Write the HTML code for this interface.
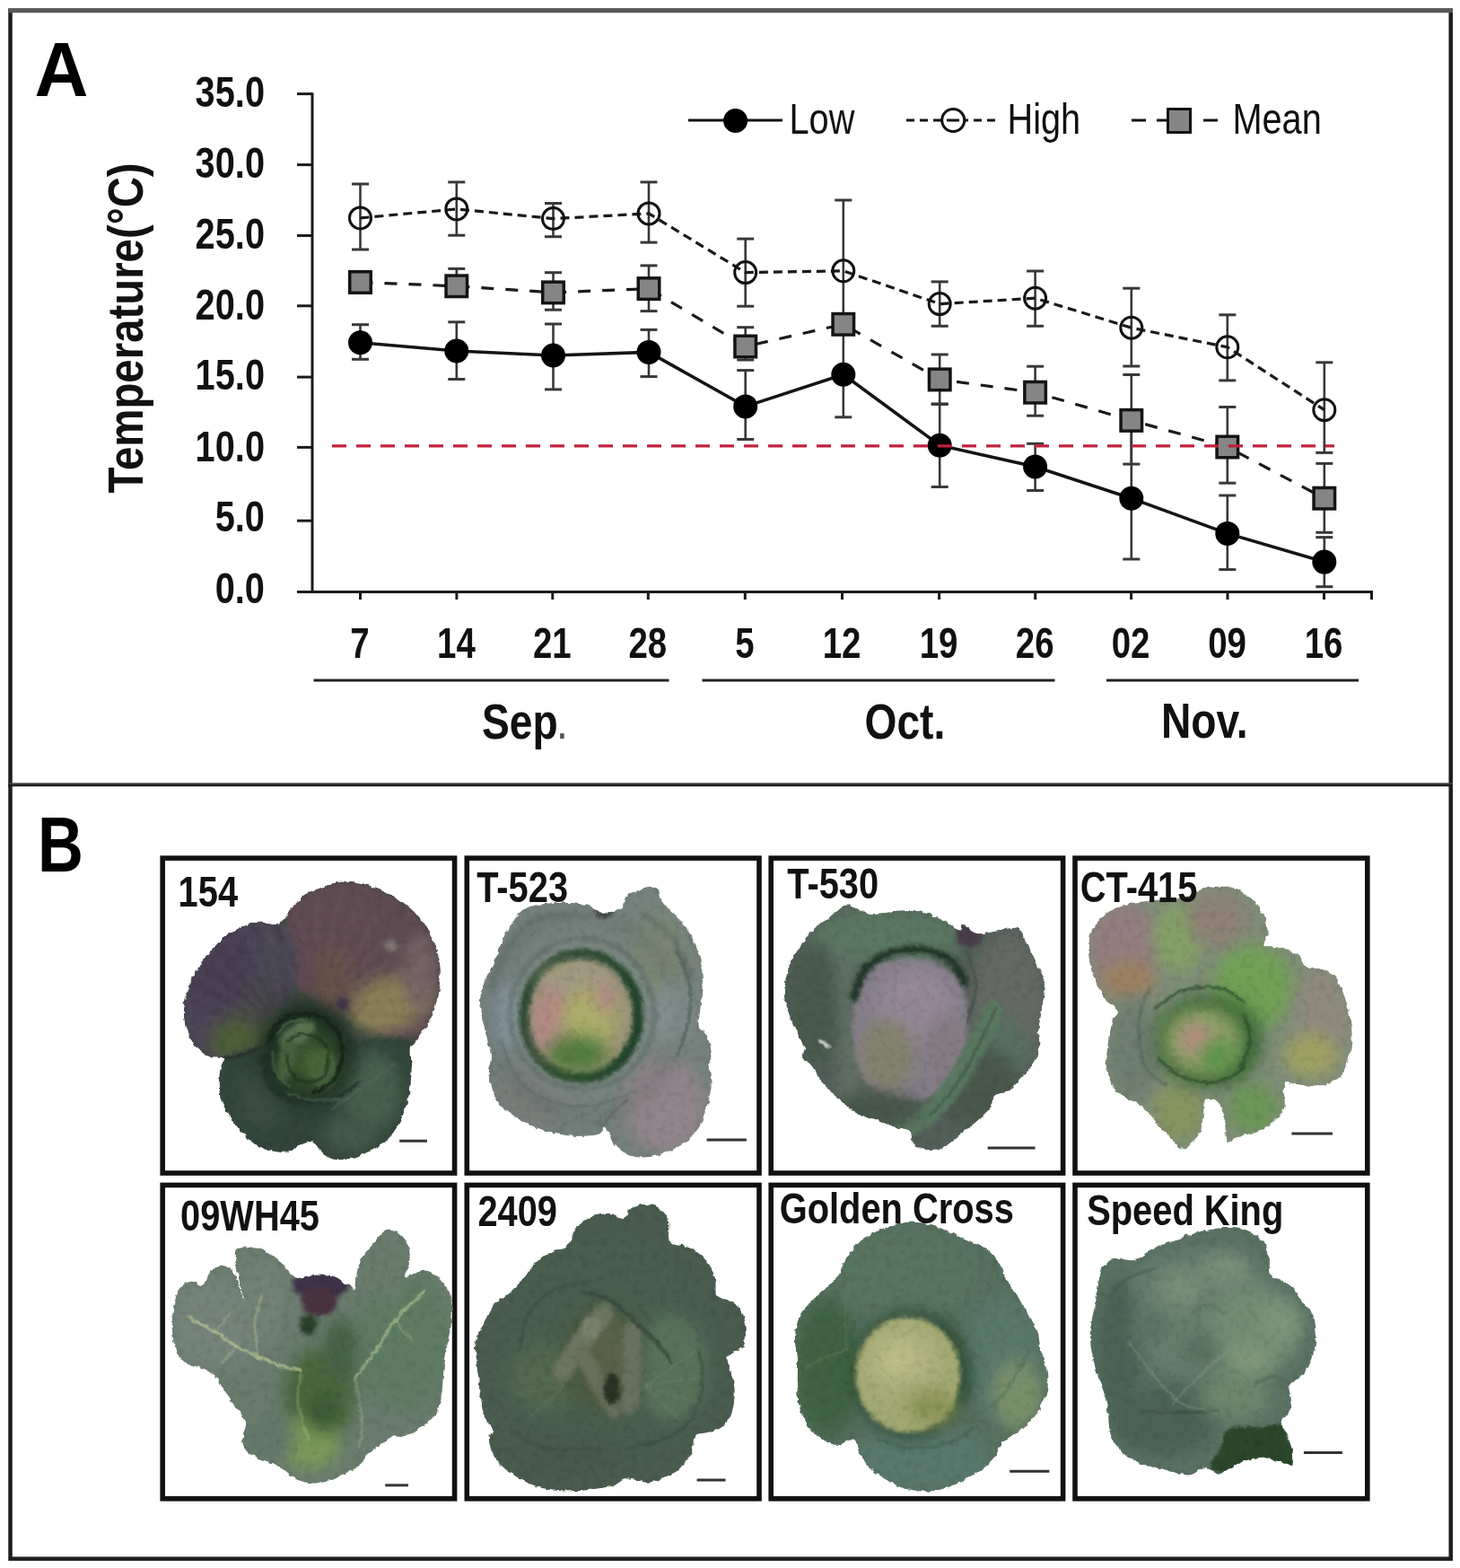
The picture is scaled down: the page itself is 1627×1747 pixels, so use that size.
<!DOCTYPE html>
<html><head><meta charset="utf-8"><title>Temperature and cabbage phenotypes</title>
<style>html,body{margin:0;padding:0;background:#fff;} svg{display:block;}</style></head>
<body><svg width="1627" height="1747" viewBox="0 0 1627 1747">
<rect width="1627" height="1747" fill="#fff"/>
<rect x="11.5" y="11.7" width="1605.2" height="1725" fill="none" stroke="#1e1e1e" stroke-width="4.5"/>
<line x1="9.3" y1="11.7" x2="1619" y2="11.7" stroke="#5a5a5a" stroke-width="5"/>
<line x1="9.3" y1="873.3" x2="1619" y2="873.3" stroke="#4a4a4a" stroke-width="2"/>
<line x1="9.3" y1="875" x2="1619" y2="875" stroke="#1e1e1e" stroke-width="2.6"/>
<text transform="translate(38.5,107.4) scale(0.965,1)" font-size="86" font-weight="bold" font-family='"Liberation Sans", Arial, sans-serif'>A</text>
<text transform="translate(42,970.7) scale(0.80,1)" font-size="88" font-weight="bold" font-family='"Liberation Sans", Arial, sans-serif'>B</text>
<line x1="348.0" y1="103.2" x2="348.0" y2="661" stroke="#1a1a1a" stroke-width="3"/>
<line x1="331" y1="659.5" x2="1529.5" y2="659.5" stroke="#1a1a1a" stroke-width="3"/>
<line x1="331" y1="104.6" x2="348.0" y2="104.6" stroke="#1a1a1a" stroke-width="3"/>
<line x1="331" y1="183.6" x2="348.0" y2="183.6" stroke="#1a1a1a" stroke-width="3"/>
<line x1="331" y1="262.5" x2="348.0" y2="262.5" stroke="#1a1a1a" stroke-width="3"/>
<line x1="331" y1="340.8" x2="348.0" y2="340.8" stroke="#1a1a1a" stroke-width="3"/>
<line x1="331" y1="420.1" x2="348.0" y2="420.1" stroke="#1a1a1a" stroke-width="3"/>
<line x1="331" y1="498.4" x2="348.0" y2="498.4" stroke="#1a1a1a" stroke-width="3"/>
<line x1="331" y1="580.2" x2="348.0" y2="580.2" stroke="#1a1a1a" stroke-width="3"/>
<line x1="331" y1="659.5" x2="348.0" y2="659.5" stroke="#1a1a1a" stroke-width="3"/>
<line x1="401.5" y1="658" x2="401.5" y2="668" stroke="#1a1a1a" stroke-width="3"/>
<line x1="508.9" y1="658" x2="508.9" y2="668" stroke="#1a1a1a" stroke-width="3"/>
<line x1="615.8" y1="658" x2="615.8" y2="668" stroke="#1a1a1a" stroke-width="3"/>
<line x1="722.3" y1="658" x2="722.3" y2="668" stroke="#1a1a1a" stroke-width="3"/>
<line x1="830.3" y1="658" x2="830.3" y2="668" stroke="#1a1a1a" stroke-width="3"/>
<line x1="938.5" y1="658" x2="938.5" y2="668" stroke="#1a1a1a" stroke-width="3"/>
<line x1="1046.6" y1="658" x2="1046.6" y2="668" stroke="#1a1a1a" stroke-width="3"/>
<line x1="1153.7" y1="658" x2="1153.7" y2="668" stroke="#1a1a1a" stroke-width="3"/>
<line x1="1260.6" y1="658" x2="1260.6" y2="668" stroke="#1a1a1a" stroke-width="3"/>
<line x1="1368" y1="658" x2="1368" y2="668" stroke="#1a1a1a" stroke-width="3"/>
<line x1="1475.5" y1="658" x2="1475.5" y2="668" stroke="#1a1a1a" stroke-width="3"/>
<line x1="1528.5" y1="658" x2="1528.5" y2="668" stroke="#1a1a1a" stroke-width="3"/>
<text transform="translate(295,118.5) scale(0.82,1)" font-size="48.5" font-weight="bold" text-anchor="end" fill="#111" font-family='"Liberation Sans", Arial, sans-serif' >35.0</text>
<text transform="translate(295,197.5) scale(0.82,1)" font-size="48.5" font-weight="bold" text-anchor="end" fill="#111" font-family='"Liberation Sans", Arial, sans-serif' >30.0</text>
<text transform="translate(295,277.1) scale(0.82,1)" font-size="48.5" font-weight="bold" text-anchor="end" fill="#111" font-family='"Liberation Sans", Arial, sans-serif' >25.0</text>
<text transform="translate(295,355.7) scale(0.82,1)" font-size="48.5" font-weight="bold" text-anchor="end" fill="#111" font-family='"Liberation Sans", Arial, sans-serif' >20.0</text>
<text transform="translate(295,434.4) scale(0.82,1)" font-size="48.5" font-weight="bold" text-anchor="end" fill="#111" font-family='"Liberation Sans", Arial, sans-serif' >15.0</text>
<text transform="translate(295,513.9) scale(0.82,1)" font-size="48.5" font-weight="bold" text-anchor="end" fill="#111" font-family='"Liberation Sans", Arial, sans-serif' >10.0</text>
<text transform="translate(295,591.9) scale(0.82,1)" font-size="48.5" font-weight="bold" text-anchor="end" fill="#111" font-family='"Liberation Sans", Arial, sans-serif' >5.0</text>
<text transform="translate(295,671.9) scale(0.82,1)" font-size="48.5" font-weight="bold" text-anchor="end" fill="#111" font-family='"Liberation Sans", Arial, sans-serif' >0.0</text>
<text transform="translate(401.0,733) scale(0.8,1)" font-size="48" font-weight="bold" text-anchor="middle" fill="#111" font-family='"Liberation Sans", Arial, sans-serif' >7</text>
<text transform="translate(508.4,733) scale(0.8,1)" font-size="48" font-weight="bold" text-anchor="middle" fill="#111" font-family='"Liberation Sans", Arial, sans-serif' >14</text>
<text transform="translate(615.3,733) scale(0.8,1)" font-size="48" font-weight="bold" text-anchor="middle" fill="#111" font-family='"Liberation Sans", Arial, sans-serif' >21</text>
<text transform="translate(721.8,733) scale(0.8,1)" font-size="48" font-weight="bold" text-anchor="middle" fill="#111" font-family='"Liberation Sans", Arial, sans-serif' >28</text>
<text transform="translate(829.8,733) scale(0.8,1)" font-size="48" font-weight="bold" text-anchor="middle" fill="#111" font-family='"Liberation Sans", Arial, sans-serif' >5</text>
<text transform="translate(938.0,733) scale(0.8,1)" font-size="48" font-weight="bold" text-anchor="middle" fill="#111" font-family='"Liberation Sans", Arial, sans-serif' >12</text>
<text transform="translate(1046.1,733) scale(0.8,1)" font-size="48" font-weight="bold" text-anchor="middle" fill="#111" font-family='"Liberation Sans", Arial, sans-serif' >19</text>
<text transform="translate(1153.2,733) scale(0.8,1)" font-size="48" font-weight="bold" text-anchor="middle" fill="#111" font-family='"Liberation Sans", Arial, sans-serif' >26</text>
<text transform="translate(1260.1,733) scale(0.8,1)" font-size="48" font-weight="bold" text-anchor="middle" fill="#111" font-family='"Liberation Sans", Arial, sans-serif' >02</text>
<text transform="translate(1367.5,733) scale(0.8,1)" font-size="48" font-weight="bold" text-anchor="middle" fill="#111" font-family='"Liberation Sans", Arial, sans-serif' >09</text>
<text transform="translate(1475.0,733) scale(0.8,1)" font-size="48" font-weight="bold" text-anchor="middle" fill="#111" font-family='"Liberation Sans", Arial, sans-serif' >16</text>
<line x1="349.5" y1="758" x2="745.5" y2="758" stroke="#222" stroke-width="3.2"/>
<line x1="782.5" y1="758" x2="1175.5" y2="758" stroke="#222" stroke-width="3.2"/>
<line x1="1233" y1="758" x2="1514" y2="758" stroke="#222" stroke-width="3.2"/>
<text transform="translate(537,822.5) scale(0.84,1)" font-size="55" font-weight="bold" text-anchor="start" fill="#111" font-family='"Liberation Sans", Arial, sans-serif' >Sep</text>
<text transform="translate(620,822.5) scale(0.84,1)" font-size="55" font-weight="normal" text-anchor="start" fill="#555" font-family='"Liberation Sans", Arial, sans-serif' >.</text>
<text transform="translate(963.5,823) scale(0.84,1)" font-size="55" font-weight="bold" text-anchor="start" fill="#111" font-family='"Liberation Sans", Arial, sans-serif' >Oct.</text>
<text transform="translate(1294,821.5) scale(0.84,1)" font-size="55" font-weight="bold" text-anchor="start" fill="#111" font-family='"Liberation Sans", Arial, sans-serif' >Nov.</text>
<text transform="translate(158.5,549.5) rotate(-90) scale(0.846,1)" font-size="56" font-weight="bold" fill="#111" font-family='"Liberation Sans", Arial, sans-serif'>Temperature(°C)</text>
<line x1="767" y1="134" x2="872" y2="134" stroke="#111" stroke-width="3"/>
<circle cx="819.6" cy="134.5" r="13.5" fill="#000"/>
<text transform="translate(879.5,149) scale(0.81,1)" font-size="49" font-weight="normal" text-anchor="start" fill="#111" font-family='"Liberation Sans", Arial, sans-serif' >Low</text>
<line x1="1010" y1="134" x2="1110" y2="134" stroke="#111" stroke-width="3" stroke-dasharray="9 6"/>
<circle cx="1062.2" cy="134" r="12.5" fill="#fff" stroke="#111" stroke-width="3"/>
<line x1="1055" y1="134" x2="1069" y2="134" stroke="#111" stroke-width="3"/>
<text transform="translate(1122.5,149) scale(0.81,1)" font-size="49" font-weight="normal" text-anchor="start" fill="#111" font-family='"Liberation Sans", Arial, sans-serif' >High</text>
<line x1="1261" y1="134" x2="1277" y2="134" stroke="#111" stroke-width="3"/>
<line x1="1289" y1="134" x2="1301" y2="134" stroke="#111" stroke-width="3"/>
<line x1="1327" y1="134" x2="1357" y2="134" stroke="#111" stroke-width="3" stroke-dasharray="0 14 16 100"/>
<rect x="1301.5" y="121.5" width="25" height="26" fill="#858585" stroke="#111" stroke-width="3"/>
<text transform="translate(1373.5,149) scale(0.81,1)" font-size="49" font-weight="normal" text-anchor="start" fill="#111" font-family='"Liberation Sans", Arial, sans-serif' >Mean</text>
<line x1="401.5" y1="205" x2="401.5" y2="278" stroke="#383838" stroke-width="2.6"/><line x1="392.0" y1="205" x2="411.0" y2="205" stroke="#383838" stroke-width="3"/><line x1="392.0" y1="278" x2="411.0" y2="278" stroke="#383838" stroke-width="3"/>
<line x1="401.5" y1="306" x2="401.5" y2="323" stroke="#383838" stroke-width="2.6"/><line x1="392.0" y1="306" x2="411.0" y2="306" stroke="#383838" stroke-width="3"/><line x1="392.0" y1="323" x2="411.0" y2="323" stroke="#383838" stroke-width="3"/>
<line x1="401.5" y1="361.7" x2="401.5" y2="400.3" stroke="#383838" stroke-width="2.6"/><line x1="392.0" y1="361.7" x2="411.0" y2="361.7" stroke="#383838" stroke-width="3"/><line x1="392.0" y1="400.3" x2="411.0" y2="400.3" stroke="#383838" stroke-width="3"/>
<line x1="508.8" y1="202.9" x2="508.8" y2="262.2" stroke="#383838" stroke-width="2.6"/><line x1="499.3" y1="202.9" x2="518.3" y2="202.9" stroke="#383838" stroke-width="3"/><line x1="499.3" y1="262.2" x2="518.3" y2="262.2" stroke="#383838" stroke-width="3"/>
<line x1="508.8" y1="299.4" x2="508.8" y2="330" stroke="#383838" stroke-width="2.6"/><line x1="499.3" y1="299.4" x2="518.3" y2="299.4" stroke="#383838" stroke-width="3"/><line x1="499.3" y1="330" x2="518.3" y2="330" stroke="#383838" stroke-width="3"/>
<line x1="508.8" y1="358.8" x2="508.8" y2="422.5" stroke="#383838" stroke-width="2.6"/><line x1="499.3" y1="358.8" x2="518.3" y2="358.8" stroke="#383838" stroke-width="3"/><line x1="499.3" y1="422.5" x2="518.3" y2="422.5" stroke="#383838" stroke-width="3"/>
<line x1="616.5" y1="226.5" x2="616.5" y2="263.7" stroke="#383838" stroke-width="2.6"/><line x1="607.0" y1="226.5" x2="626.0" y2="226.5" stroke="#383838" stroke-width="3"/><line x1="607.0" y1="263.7" x2="626.0" y2="263.7" stroke="#383838" stroke-width="3"/>
<line x1="616.5" y1="303.7" x2="616.5" y2="345.2" stroke="#383838" stroke-width="2.6"/><line x1="607.0" y1="303.7" x2="626.0" y2="303.7" stroke="#383838" stroke-width="3"/><line x1="607.0" y1="345.2" x2="626.0" y2="345.2" stroke="#383838" stroke-width="3"/>
<line x1="616.5" y1="361" x2="616.5" y2="433.9" stroke="#383838" stroke-width="2.6"/><line x1="607.0" y1="361" x2="626.0" y2="361" stroke="#383838" stroke-width="3"/><line x1="607.0" y1="433.9" x2="626.0" y2="433.9" stroke="#383838" stroke-width="3"/>
<line x1="723" y1="202.9" x2="723" y2="270.1" stroke="#383838" stroke-width="2.6"/><line x1="713.5" y1="202.9" x2="732.5" y2="202.9" stroke="#383838" stroke-width="3"/><line x1="713.5" y1="270.1" x2="732.5" y2="270.1" stroke="#383838" stroke-width="3"/>
<line x1="723" y1="295.9" x2="723" y2="346.6" stroke="#383838" stroke-width="2.6"/><line x1="713.5" y1="295.9" x2="732.5" y2="295.9" stroke="#383838" stroke-width="3"/><line x1="713.5" y1="346.6" x2="732.5" y2="346.6" stroke="#383838" stroke-width="3"/>
<line x1="723" y1="367.4" x2="723" y2="419.6" stroke="#383838" stroke-width="2.6"/><line x1="713.5" y1="367.4" x2="732.5" y2="367.4" stroke="#383838" stroke-width="3"/><line x1="713.5" y1="419.6" x2="732.5" y2="419.6" stroke="#383838" stroke-width="3"/>
<line x1="830.7" y1="266.1" x2="830.7" y2="341.2" stroke="#383838" stroke-width="2.6"/><line x1="821.2" y1="266.1" x2="840.2" y2="266.1" stroke="#383838" stroke-width="3"/><line x1="821.2" y1="341.2" x2="840.2" y2="341.2" stroke="#383838" stroke-width="3"/>
<line x1="830.7" y1="364.7" x2="830.7" y2="401" stroke="#383838" stroke-width="2.6"/><line x1="821.2" y1="364.7" x2="840.2" y2="364.7" stroke="#383838" stroke-width="3"/><line x1="821.2" y1="401" x2="840.2" y2="401" stroke="#383838" stroke-width="3"/>
<line x1="830.7" y1="412.6" x2="830.7" y2="489.5" stroke="#383838" stroke-width="2.6"/><line x1="821.2" y1="412.6" x2="840.2" y2="412.6" stroke="#383838" stroke-width="3"/><line x1="821.2" y1="489.5" x2="840.2" y2="489.5" stroke="#383838" stroke-width="3"/>
<line x1="939.8" y1="223" x2="939.8" y2="368" stroke="#383838" stroke-width="2.6"/><line x1="930.3" y1="223" x2="949.3" y2="223" stroke="#383838" stroke-width="3"/><line x1="930.3" y1="368" x2="949.3" y2="368" stroke="#383838" stroke-width="3"/>
<line x1="939.8" y1="352" x2="939.8" y2="370" stroke="#383838" stroke-width="2.6"/><line x1="930.3" y1="352" x2="949.3" y2="352" stroke="#383838" stroke-width="3"/><line x1="930.3" y1="370" x2="949.3" y2="370" stroke="#383838" stroke-width="3"/>
<line x1="939.8" y1="370" x2="939.8" y2="464.8" stroke="#383838" stroke-width="2.6"/><line x1="930.3" y1="370" x2="949.3" y2="370" stroke="#383838" stroke-width="3"/><line x1="930.3" y1="464.8" x2="949.3" y2="464.8" stroke="#383838" stroke-width="3"/>
<line x1="1047.2" y1="313.9" x2="1047.2" y2="363.3" stroke="#383838" stroke-width="2.6"/><line x1="1037.7" y1="313.9" x2="1056.7" y2="313.9" stroke="#383838" stroke-width="3"/><line x1="1037.7" y1="363.3" x2="1056.7" y2="363.3" stroke="#383838" stroke-width="3"/>
<line x1="1047.2" y1="395" x2="1047.2" y2="450.4" stroke="#383838" stroke-width="2.6"/><line x1="1037.7" y1="395" x2="1056.7" y2="395" stroke="#383838" stroke-width="3"/><line x1="1037.7" y1="450.4" x2="1056.7" y2="450.4" stroke="#383838" stroke-width="3"/>
<line x1="1047.2" y1="450" x2="1047.2" y2="542.5" stroke="#383838" stroke-width="2.6"/><line x1="1037.7" y1="450" x2="1056.7" y2="450" stroke="#383838" stroke-width="3"/><line x1="1037.7" y1="542.5" x2="1056.7" y2="542.5" stroke="#383838" stroke-width="3"/>
<line x1="1153.6" y1="302" x2="1153.6" y2="363.3" stroke="#383838" stroke-width="2.6"/><line x1="1144.1" y1="302" x2="1163.1" y2="302" stroke="#383838" stroke-width="3"/><line x1="1144.1" y1="363.3" x2="1163.1" y2="363.3" stroke="#383838" stroke-width="3"/>
<line x1="1153.6" y1="408.2" x2="1153.6" y2="463.2" stroke="#383838" stroke-width="2.6"/><line x1="1144.1" y1="408.2" x2="1163.1" y2="408.2" stroke="#383838" stroke-width="3"/><line x1="1144.1" y1="463.2" x2="1163.1" y2="463.2" stroke="#383838" stroke-width="3"/>
<line x1="1153.6" y1="494.3" x2="1153.6" y2="546.5" stroke="#383838" stroke-width="2.6"/><line x1="1144.1" y1="494.3" x2="1163.1" y2="494.3" stroke="#383838" stroke-width="3"/><line x1="1144.1" y1="546.5" x2="1163.1" y2="546.5" stroke="#383838" stroke-width="3"/>
<line x1="1260.8" y1="321.2" x2="1260.8" y2="408" stroke="#383838" stroke-width="2.6"/><line x1="1251.3" y1="321.2" x2="1270.3" y2="321.2" stroke="#383838" stroke-width="3"/><line x1="1251.3" y1="408" x2="1270.3" y2="408" stroke="#383838" stroke-width="3"/>
<line x1="1260.8" y1="417.5" x2="1260.8" y2="517.1" stroke="#383838" stroke-width="2.6"/><line x1="1251.3" y1="417.5" x2="1270.3" y2="417.5" stroke="#383838" stroke-width="3"/><line x1="1251.3" y1="517.1" x2="1270.3" y2="517.1" stroke="#383838" stroke-width="3"/>
<line x1="1260.8" y1="470" x2="1260.8" y2="623" stroke="#383838" stroke-width="2.6"/><line x1="1251.3" y1="470" x2="1270.3" y2="470" stroke="#383838" stroke-width="3"/><line x1="1251.3" y1="623" x2="1270.3" y2="623" stroke="#383838" stroke-width="3"/>
<line x1="1367.8" y1="350.8" x2="1367.8" y2="423.9" stroke="#383838" stroke-width="2.6"/><line x1="1358.3" y1="350.8" x2="1377.3" y2="350.8" stroke="#383838" stroke-width="3"/><line x1="1358.3" y1="423.9" x2="1377.3" y2="423.9" stroke="#383838" stroke-width="3"/>
<line x1="1367.8" y1="453.5" x2="1367.8" y2="538.2" stroke="#383838" stroke-width="2.6"/><line x1="1358.3" y1="453.5" x2="1377.3" y2="453.5" stroke="#383838" stroke-width="3"/><line x1="1358.3" y1="538.2" x2="1377.3" y2="538.2" stroke="#383838" stroke-width="3"/>
<line x1="1367.8" y1="552" x2="1367.8" y2="634.6" stroke="#383838" stroke-width="2.6"/><line x1="1358.3" y1="552" x2="1377.3" y2="552" stroke="#383838" stroke-width="3"/><line x1="1358.3" y1="634.6" x2="1377.3" y2="634.6" stroke="#383838" stroke-width="3"/>
<line x1="1475.8" y1="403.8" x2="1475.8" y2="504.4" stroke="#383838" stroke-width="2.6"/><line x1="1466.3" y1="403.8" x2="1485.3" y2="403.8" stroke="#383838" stroke-width="3"/><line x1="1466.3" y1="504.4" x2="1485.3" y2="504.4" stroke="#383838" stroke-width="3"/>
<line x1="1475.8" y1="516.4" x2="1475.8" y2="593.3" stroke="#383838" stroke-width="2.6"/><line x1="1466.3" y1="516.4" x2="1485.3" y2="516.4" stroke="#383838" stroke-width="3"/><line x1="1466.3" y1="593.3" x2="1485.3" y2="593.3" stroke="#383838" stroke-width="3"/>
<line x1="1475.8" y1="598.6" x2="1475.8" y2="653.7" stroke="#383838" stroke-width="2.6"/><line x1="1466.3" y1="598.6" x2="1485.3" y2="598.6" stroke="#383838" stroke-width="3"/><line x1="1466.3" y1="653.7" x2="1485.3" y2="653.7" stroke="#383838" stroke-width="3"/>
<polyline points="401.5,242.9 508.8,232.9 616.5,243.6 723,237.9 830.7,303.6 939.8,301.8 1047.2,338.6 1153.6,332.2 1260.8,365.2 1367.8,386.8 1475.8,456.7" fill="none" stroke="#1a1a1a" stroke-width="3.2" stroke-dasharray="10 6"/>
<polyline points="401.5,314.5 508.8,318.8 616.5,325.9 723,321.6 830.7,386 939.8,361.3 1047.2,422.9 1153.6,437.2 1260.8,468.4 1367.8,498 1475.8,555.2" fill="none" stroke="#1a1a1a" stroke-width="3.2" stroke-dasharray="14 13"/>
<polyline points="401.5,381.7 508.8,391 616.5,396 723,392.4 830.7,452.9 939.8,417.2 1047.2,496.2 1153.6,520 1260.8,555.2 1367.8,594.4 1475.8,626.1" fill="none" stroke="#151515" stroke-width="3.6"/>
<circle cx="401.5" cy="242.9" r="12" fill="none" stroke="#111" stroke-width="3"/>
<rect x="389.75" y="302.75" width="23.5" height="23.5" fill="#858585" stroke="#141414" stroke-width="3.5"/>
<circle cx="401.5" cy="381.7" r="13.5" fill="#000"/>
<circle cx="508.8" cy="232.9" r="12" fill="none" stroke="#111" stroke-width="3"/>
<rect x="497.05" y="307.05" width="23.5" height="23.5" fill="#858585" stroke="#141414" stroke-width="3.5"/>
<circle cx="508.8" cy="391" r="13.5" fill="#000"/>
<circle cx="616.5" cy="243.6" r="12" fill="none" stroke="#111" stroke-width="3"/>
<rect x="604.75" y="314.15" width="23.5" height="23.5" fill="#858585" stroke="#141414" stroke-width="3.5"/>
<circle cx="616.5" cy="396" r="13.5" fill="#000"/>
<circle cx="723" cy="237.9" r="12" fill="none" stroke="#111" stroke-width="3"/>
<rect x="711.25" y="309.85" width="23.5" height="23.5" fill="#858585" stroke="#141414" stroke-width="3.5"/>
<circle cx="723" cy="392.4" r="13.5" fill="#000"/>
<circle cx="830.7" cy="303.6" r="12" fill="none" stroke="#111" stroke-width="3"/>
<rect x="818.95" y="374.25" width="23.5" height="23.5" fill="#858585" stroke="#141414" stroke-width="3.5"/>
<circle cx="830.7" cy="452.9" r="13.5" fill="#000"/>
<circle cx="939.8" cy="301.8" r="12" fill="none" stroke="#111" stroke-width="3"/>
<rect x="928.05" y="349.55" width="23.5" height="23.5" fill="#858585" stroke="#141414" stroke-width="3.5"/>
<circle cx="939.8" cy="417.2" r="13.5" fill="#000"/>
<circle cx="1047.2" cy="338.6" r="12" fill="none" stroke="#111" stroke-width="3"/>
<rect x="1035.45" y="411.15" width="23.5" height="23.5" fill="#858585" stroke="#141414" stroke-width="3.5"/>
<circle cx="1047.2" cy="496.2" r="13.5" fill="#000"/>
<circle cx="1153.6" cy="332.2" r="12" fill="none" stroke="#111" stroke-width="3"/>
<rect x="1141.85" y="425.45" width="23.5" height="23.5" fill="#858585" stroke="#141414" stroke-width="3.5"/>
<circle cx="1153.6" cy="520" r="13.5" fill="#000"/>
<circle cx="1260.8" cy="365.2" r="12" fill="none" stroke="#111" stroke-width="3"/>
<rect x="1249.05" y="456.65" width="23.5" height="23.5" fill="#858585" stroke="#141414" stroke-width="3.5"/>
<circle cx="1260.8" cy="555.2" r="13.5" fill="#000"/>
<circle cx="1367.8" cy="386.8" r="12" fill="none" stroke="#111" stroke-width="3"/>
<rect x="1356.05" y="486.25" width="23.5" height="23.5" fill="#858585" stroke="#141414" stroke-width="3.5"/>
<circle cx="1367.8" cy="594.4" r="13.5" fill="#000"/>
<circle cx="1475.8" cy="456.7" r="12" fill="none" stroke="#111" stroke-width="3"/>
<rect x="1464.05" y="543.45" width="23.5" height="23.5" fill="#858585" stroke="#141414" stroke-width="3.5"/>
<circle cx="1475.8" cy="626.1" r="13.5" fill="#000"/>
<line x1="370" y1="496.8" x2="1487" y2="496.8" stroke="#c0203e" stroke-width="3.2" stroke-dasharray="16 11"/>
<rect x="181.20000000000002" y="956.0999999999999" width="325.4" height="350.9" fill="none" stroke="#111" stroke-width="5.6"/>
<rect x="520.3" y="956.0999999999999" width="325.69999999999993" height="350.9" fill="none" stroke="#111" stroke-width="5.6"/>
<rect x="859.1999999999999" y="956.0999999999999" width="325.4000000000001" height="350.9" fill="none" stroke="#111" stroke-width="5.6"/>
<rect x="1198.0" y="956.0999999999999" width="325.79999999999984" height="350.9" fill="none" stroke="#111" stroke-width="5.6"/>
<rect x="181.20000000000002" y="1320.3999999999999" width="325.4" height="349.4" fill="none" stroke="#111" stroke-width="5.6"/>
<rect x="520.3" y="1320.3999999999999" width="325.69999999999993" height="349.4" fill="none" stroke="#111" stroke-width="5.6"/>
<rect x="859.1999999999999" y="1320.3999999999999" width="325.4000000000001" height="349.4" fill="none" stroke="#111" stroke-width="5.6"/>
<rect x="1198.0" y="1320.3999999999999" width="325.79999999999984" height="349.4" fill="none" stroke="#111" stroke-width="5.6"/>
<defs>
<filter id="b1" filterUnits="userSpaceOnUse" x="-300" y="-300" width="2300" height="2300"><feGaussianBlur stdDeviation="45"/></filter>
<filter id="b2" filterUnits="userSpaceOnUse" x="-300" y="-300" width="2300" height="2300"><feGaussianBlur stdDeviation="90"/></filter>
<filter id="b0" filterUnits="userSpaceOnUse" x="-300" y="-300" width="2300" height="2300"><feGaussianBlur stdDeviation="12"/></filter>
<filter id="bs" filterUnits="userSpaceOnUse" x="-300" y="-300" width="2300" height="2300"><feGaussianBlur stdDeviation="6"/></filter>
<filter id="rough" filterUnits="userSpaceOnUse" x="0" y="0" width="1627" height="1727"><feTurbulence type="fractalNoise" baseFrequency="0.03" numOctaves="2" seed="3" result="n"/><feDisplacementMap in="SourceGraphic" in2="n" scale="26" xChannelSelector="R" yChannelSelector="G"/></filter>
<filter id="tex" filterUnits="userSpaceOnUse" x="0" y="0" width="1627" height="1727"><feTurbulence type="fractalNoise" baseFrequency="0.025" numOctaves="3" seed="11"/><feColorMatrix type="matrix" values="0 0 0 0 0  0 0 0 0 0  0 0 0 0 0  0 0 0 -1.4 0.75"/></filter>
</defs>
<g transform="translate(180,960) scale(0.199760)">
<clipPath id="c1"><path d="M700,300 C723,275 747,227 780,200 C813,173 855,155 900,140 C945,125 1000,108 1050,110 C1100,112 1150,130 1200,150 C1250,170 1308,200 1350,230 C1392,260 1422,293 1450,330 C1478,367 1502,405 1520,450 C1538,495 1552,550 1555,600 C1558,650 1549,703 1540,750 C1531,797 1518,842 1500,880 C1482,918 1448,953 1430,980 C1412,1007 1396,1012 1390,1040 C1384,1068 1397,1107 1395,1150 C1393,1193 1391,1250 1380,1300 C1369,1350 1352,1407 1330,1450 C1308,1493 1280,1532 1250,1560 C1220,1588 1187,1603 1150,1620 C1113,1637 1067,1655 1030,1660 C993,1665 960,1665 930,1650 C900,1635 872,1583 850,1570 C828,1557 825,1562 800,1570 C775,1578 738,1615 700,1620 C662,1625 608,1615 570,1600 C532,1585 498,1555 470,1530 C442,1505 422,1480 400,1450 C378,1420 353,1383 340,1350 C327,1317 322,1283 320,1250 C318,1217 325,1176 330,1150 C335,1124 363,1107 350,1095 C337,1083 280,1096 250,1080 C220,1064 190,1030 170,1000 C150,970 137,937 130,900 C123,863 123,820 130,780 C137,740 153,697 170,660 C187,623 203,597 230,560 C257,523 297,472 330,440 C363,408 395,387 430,370 C465,353 505,343 540,340 C575,337 613,357 640,350 C667,343 677,325 700,300 Z"/></clipPath>
<g filter="url(#rough)"><g clip-path="url(#c1)">
<rect x="0" y="0" width="1627" height="1727" fill="#3f4a42"/>
<path d="M700,300 C710,225 747,227 780,200 C813,173 855,155 900,140 C945,125 1000,108 1050,110 C1100,112 1150,130 1200,150 C1250,170 1308,200 1350,230 C1392,260 1422,293 1450,330 C1478,367 1502,405 1520,450 C1538,495 1552,550 1555,600 C1558,650 1549,703 1540,750 C1531,797 1518,842 1500,880 C1482,918 1480,968 1430,980 C1380,992 1272,977 1200,950 C1128,923 1058,852 1000,820 C942,788 897,788 850,760 C803,732 745,727 720,650 C695,573 690,375 700,300 Z" fill="#5f4b52" filter="url(#b0)" opacity="1"/>
<ellipse cx="1000" cy="420" rx="260" ry="260" fill="#634d55" filter="url(#b1)" opacity="1"/>
<ellipse cx="960" cy="660" rx="110" ry="190" fill="#6c5449" filter="url(#b1)" opacity="1"/>
<ellipse cx="1270" cy="790" rx="240" ry="150" fill="#8e8658" filter="url(#b1)" opacity="1" transform="rotate(-15 1270 790)"/>
<ellipse cx="1440" cy="620" rx="90" ry="220" fill="#766868" filter="url(#b1)" opacity="1"/>
<ellipse cx="1280" cy="470" rx="40" ry="35" fill="#827a78" filter="url(#b0)" opacity="1"/>
<path d="M130,780 C137,740 153,697 170,660 C187,623 203,597 230,560 C257,523 297,472 330,440 C363,408 395,387 430,370 C465,353 505,343 540,340 C575,337 610,337 640,350 C670,363 700,378 720,420 C740,462 763,543 760,600 C757,657 727,710 700,760 C673,810 633,850 600,900 C567,950 540,1028 500,1060 C460,1092 402,1087 360,1090 C318,1093 282,1095 250,1080 C218,1065 190,1030 170,1000 C150,970 137,937 130,900 C123,863 123,820 130,780 Z" fill="#4d4456" filter="url(#b0)" opacity="1"/>
<ellipse cx="330" cy="600" rx="200" ry="210" fill="#4a4052" filter="url(#b1)" opacity="1"/>
<ellipse cx="480" cy="960" rx="230" ry="130" fill="#4e5e38" filter="url(#b1)" opacity="1" transform="rotate(-25 480 960)"/>
<ellipse cx="620" cy="560" rx="90" ry="170" fill="#4a4c56" filter="url(#b1)" opacity="1"/>
<ellipse cx="560" cy="790" rx="110" ry="120" fill="#4a4a48" filter="url(#b1)" opacity="1"/>
<path d="M330,1150 C337,1123 332,1107 360,1090 C388,1073 443,1048 500,1050 C557,1052 633,1092 700,1100 C767,1108 833,1117 900,1100 C967,1083 1018,1017 1100,1000 C1182,983 1341,975 1390,1000 C1439,1025 1397,1100 1395,1150 C1393,1200 1391,1250 1380,1300 C1369,1350 1352,1407 1330,1450 C1308,1493 1280,1532 1250,1560 C1220,1588 1187,1603 1150,1620 C1113,1637 1067,1655 1030,1660 C993,1665 960,1665 930,1650 C900,1635 872,1583 850,1570 C828,1557 825,1562 800,1570 C775,1578 738,1615 700,1620 C662,1625 608,1615 570,1600 C532,1585 498,1555 470,1530 C442,1505 422,1480 400,1450 C378,1420 353,1383 340,1350 C327,1317 322,1283 320,1250 C318,1217 323,1177 330,1150 Z" fill="#33453a" filter="url(#b0)" opacity="1"/>
<ellipse cx="1170" cy="1280" rx="170" ry="230" fill="#46604e" filter="url(#b1)" opacity="1"/>
<ellipse cx="1050" cy="1520" rx="150" ry="110" fill="#445a4a" filter="url(#b1)" opacity="1"/>
<ellipse cx="560" cy="1330" rx="140" ry="170" fill="#3a4e42" filter="url(#b1)" opacity="1"/>
<ellipse cx="810" cy="1070" rx="270" ry="290" fill="#1f2f20" filter="url(#b1)" opacity="1"/>
<ellipse cx="830" cy="1110" rx="175" ry="195" fill="#30482c" filter="url(#b1)" opacity="1"/>
<ellipse cx="760" cy="960" rx="110" ry="55" fill="#587250" filter="url(#b0)" opacity="1" transform="rotate(-30 760 960)"/>
<ellipse cx="700" cy="1100" rx="50" ry="130" fill="#46603e" filter="url(#b0)" opacity="1" transform="rotate(10 700 1100)"/>
<ellipse cx="900" cy="1160" rx="80" ry="110" fill="#42603a" filter="url(#b0)" opacity="1"/>
<ellipse cx="840" cy="1110" rx="70" ry="80" fill="#4a6838" filter="url(#b1)" opacity="1"/>
<path d="M700,1000 C713,993 750,962 780,960 C810,958 855,970 880,990 C905,1010 927,1045 930,1080 C933,1115 922,1175 900,1200 C878,1225 830,1235 800,1230 C770,1225 737,1195 720,1170 C703,1145 703,1095 700,1080 " fill="none" stroke="#1c2c1c" stroke-width="12" stroke-linecap="round" stroke-linejoin="round" filter="url(#bs)" opacity="0.8"/>
<ellipse cx="1010" cy="790" rx="38" ry="38" fill="#40344c" filter="url(#b0)" opacity="1"/>
<path d="M600,1000 C608,983 623,925 650,900 C677,875 718,855 760,850 C802,845 862,852 900,870 C938,888 975,945 990,960 " fill="none" stroke="#162416" stroke-width="18" stroke-linecap="round" stroke-linejoin="round" filter="url(#bs)" opacity="1"/>
<path d="M990,960 C993,980 1015,1037 1010,1080 C1005,1123 987,1185 960,1220 C933,1255 868,1278 850,1290 " fill="none" stroke="#162416" stroke-width="16" stroke-linecap="round" stroke-linejoin="round" filter="url(#bs)" opacity="1"/>
<path d="M560,1120 C567,1142 577,1217 600,1250 C623,1283 658,1305 700,1320 C742,1335 800,1343 850,1340 C900,1337 958,1318 1000,1300 C1042,1282 1083,1242 1100,1230 " fill="none" stroke="#22322a" stroke-width="14" stroke-linecap="round" stroke-linejoin="round" filter="url(#bs)" opacity="1"/>
<path d="M650,960 C662,948 692,903 720,890 C748,877 803,882 820,880 " fill="none" stroke="#5e7e52" stroke-width="10" stroke-linecap="round" stroke-linejoin="round" filter="url(#bs)" opacity="0.8"/>
<path d="M620,1060 C623,1080 623,1147 640,1180 C657,1213 707,1247 720,1260 " fill="none" stroke="#56744e" stroke-width="10" stroke-linecap="round" stroke-linejoin="round" filter="url(#bs)" opacity="0.7"/>
<path d="M700,1290 C725,1297 792,1325 850,1330 C908,1335 1017,1322 1050,1320 " fill="none" stroke="#627a66" stroke-width="10" stroke-linecap="round" stroke-linejoin="round" filter="url(#bs)" opacity="0.6"/>
<path d="M340,1100 C358,1097 413,1092 450,1080 C487,1068 542,1038 560,1030 " fill="none" stroke="#262e2a" stroke-width="14" stroke-linecap="round" stroke-linejoin="round" filter="url(#bs)" opacity="1"/>
<path d="M794,697 C732,608 483,254 421,165 " fill="none" stroke="#76606a" stroke-width="14" stroke-linecap="round" stroke-linejoin="round" filter="url(#b0)" opacity="0.3"/><path d="M806,689 C753,595 541,217 488,123 " fill="none" stroke="#4e3c44" stroke-width="14" stroke-linecap="round" stroke-linejoin="round" filter="url(#b0)" opacity="0.3"/><path d="M820,683 C776,584 602,186 558,87 " fill="none" stroke="#76606a" stroke-width="14" stroke-linecap="round" stroke-linejoin="round" filter="url(#b0)" opacity="0.3"/><path d="M834,677 C800,574 666,162 632,59 " fill="none" stroke="#4e3c44" stroke-width="14" stroke-linecap="round" stroke-linejoin="round" filter="url(#b0)" opacity="0.3"/><path d="M848,673 C825,567 731,145 708,39 " fill="none" stroke="#76606a" stroke-width="14" stroke-linecap="round" stroke-linejoin="round" filter="url(#b0)" opacity="0.3"/><path d="M862,671 C849,564 799,134 786,26 " fill="none" stroke="#4e3c44" stroke-width="14" stroke-linecap="round" stroke-linejoin="round" filter="url(#b0)" opacity="0.3"/><path d="M877,670 C875,562 867,128 865,20 " fill="none" stroke="#76606a" stroke-width="14" stroke-linecap="round" stroke-linejoin="round" filter="url(#b0)" opacity="0.3"/><path d="M892,670 C901,562 935,131 944,23 " fill="none" stroke="#4e3c44" stroke-width="14" stroke-linecap="round" stroke-linejoin="round" filter="url(#b0)" opacity="0.3"/><path d="M907,672 C926,566 1003,140 1022,33 " fill="none" stroke="#76606a" stroke-width="14" stroke-linecap="round" stroke-linejoin="round" filter="url(#b0)" opacity="0.3"/><path d="M921,676 C951,572 1069,154 1099,50 " fill="none" stroke="#4e3c44" stroke-width="14" stroke-linecap="round" stroke-linejoin="round" filter="url(#b0)" opacity="0.3"/><path d="M935,680 C975,579 1133,177 1173,76 " fill="none" stroke="#76606a" stroke-width="14" stroke-linecap="round" stroke-linejoin="round" filter="url(#b0)" opacity="0.3"/><path d="M949,687 C998,590 1196,204 1245,108 " fill="none" stroke="#4e3c44" stroke-width="14" stroke-linecap="round" stroke-linejoin="round" filter="url(#b0)" opacity="0.3"/><path d="M961,694 C1020,603 1255,239 1314,148 " fill="none" stroke="#76606a" stroke-width="14" stroke-linecap="round" stroke-linejoin="round" filter="url(#b0)" opacity="0.3"/><path d="M973,703 C1040,618 1310,279 1378,194 " fill="none" stroke="#4e3c44" stroke-width="14" stroke-linecap="round" stroke-linejoin="round" filter="url(#b0)" opacity="0.3"/><path d="M984,712 C1060,634 1362,324 1437,246 " fill="none" stroke="#76606a" stroke-width="14" stroke-linecap="round" stroke-linejoin="round" filter="url(#b0)" opacity="0.3"/><path d="M995,723 C1078,653 1408,373 1491,303 " fill="none" stroke="#4e3c44" stroke-width="14" stroke-linecap="round" stroke-linejoin="round" filter="url(#b0)" opacity="0.3"/><path d="M1004,735 C1093,674 1450,428 1539,366 " fill="none" stroke="#76606a" stroke-width="14" stroke-linecap="round" stroke-linejoin="round" filter="url(#b0)" opacity="0.3"/><path d="M1011,747 C1106,695 1485,485 1580,433 " fill="none" stroke="#4e3c44" stroke-width="14" stroke-linecap="round" stroke-linejoin="round" filter="url(#b0)" opacity="0.3"/><path d="M1018,761 C1118,718 1516,547 1615,504 " fill="none" stroke="#76606a" stroke-width="14" stroke-linecap="round" stroke-linejoin="round" filter="url(#b0)" opacity="0.3"/><path d="M1023,775 C1126,742 1540,611 1643,578 " fill="none" stroke="#4e3c44" stroke-width="14" stroke-linecap="round" stroke-linejoin="round" filter="url(#b0)" opacity="0.3"/><path d="M1027,789 C1133,766 1557,676 1663,654 " fill="none" stroke="#76606a" stroke-width="14" stroke-linecap="round" stroke-linejoin="round" filter="url(#b0)" opacity="0.3"/><path d="M1029,804 C1137,792 1567,744 1675,732 " fill="none" stroke="#4e3c44" stroke-width="14" stroke-linecap="round" stroke-linejoin="round" filter="url(#b0)" opacity="0.3"/><path d="M1030,818 C1138,817 1572,812 1680,811 " fill="none" stroke="#76606a" stroke-width="14" stroke-linecap="round" stroke-linejoin="round" filter="url(#b0)" opacity="0.3"/><path d="M1029,833 C1137,842 1569,880 1677,890 " fill="none" stroke="#4e3c44" stroke-width="14" stroke-linecap="round" stroke-linejoin="round" filter="url(#b0)" opacity="0.3"/>
<path d="M552,924 C475,910 166,856 89,842 " fill="none" stroke="#5e5468" stroke-width="12" stroke-linecap="round" stroke-linejoin="round" filter="url(#b0)" opacity="0.4"/><path d="M556,909 C480,888 178,803 103,782 " fill="none" stroke="#3c3444" stroke-width="12" stroke-linecap="round" stroke-linejoin="round" filter="url(#b0)" opacity="0.4"/><path d="M560,895 C487,866 196,751 123,722 " fill="none" stroke="#5e5468" stroke-width="12" stroke-linecap="round" stroke-linejoin="round" filter="url(#b0)" opacity="0.4"/><path d="M567,881 C497,845 219,702 149,666 " fill="none" stroke="#3c3444" stroke-width="12" stroke-linecap="round" stroke-linejoin="round" filter="url(#b0)" opacity="0.4"/><path d="M574,868 C508,825 246,655 180,612 " fill="none" stroke="#5e5468" stroke-width="12" stroke-linecap="round" stroke-linejoin="round" filter="url(#b0)" opacity="0.4"/><path d="M583,856 C522,807 278,610 217,561 " fill="none" stroke="#3c3444" stroke-width="12" stroke-linecap="round" stroke-linejoin="round" filter="url(#b0)" opacity="0.4"/><path d="M593,845 C537,790 315,570 259,515 " fill="none" stroke="#5e5468" stroke-width="12" stroke-linecap="round" stroke-linejoin="round" filter="url(#b0)" opacity="0.4"/><path d="M604,834 C554,774 355,532 305,472 " fill="none" stroke="#3c3444" stroke-width="12" stroke-linecap="round" stroke-linejoin="round" filter="url(#b0)" opacity="0.4"/><path d="M616,825 C572,760 398,500 355,435 " fill="none" stroke="#5e5468" stroke-width="12" stroke-linecap="round" stroke-linejoin="round" filter="url(#b0)" opacity="0.4"/><path d="M629,818 C592,749 445,472 408,403 " fill="none" stroke="#3c3444" stroke-width="12" stroke-linecap="round" stroke-linejoin="round" filter="url(#b0)" opacity="0.4"/><path d="M643,811 C613,738 495,448 465,376 " fill="none" stroke="#5e5468" stroke-width="12" stroke-linecap="round" stroke-linejoin="round" filter="url(#b0)" opacity="0.4"/><path d="M657,806 C635,731 546,431 524,356 " fill="none" stroke="#3c3444" stroke-width="12" stroke-linecap="round" stroke-linejoin="round" filter="url(#b0)" opacity="0.4"/><path d="M672,803 C657,726 599,418 584,341 " fill="none" stroke="#5e5468" stroke-width="12" stroke-linecap="round" stroke-linejoin="round" filter="url(#b0)" opacity="0.4"/><path d="M687,801 C680,723 653,410 646,332 " fill="none" stroke="#3c3444" stroke-width="12" stroke-linecap="round" stroke-linejoin="round" filter="url(#b0)" opacity="0.4"/>
<path d="M950,1380 C978,1360 1062,1302 1120,1260 C1178,1218 1270,1152 1300,1130 " fill="none" stroke="#627866" stroke-width="8" stroke-linecap="round" stroke-linejoin="round" filter="url(#bs)" opacity="0.6"/>
<rect x="0" y="0" width="1627" height="1727" filter="url(#tex)" opacity="0.15"/>
</g></g></g>
<g transform="translate(519,960) scale(0.199760)">
<clipPath id="c2"><path d="M360,250 C410,232 503,230 560,230 C617,230 667,240 700,250 C733,260 732,288 760,290 C788,292 847,277 870,260 C893,243 878,208 900,190 C922,172 972,157 1000,150 C1028,143 1053,137 1070,150 C1087,163 1078,200 1100,230 C1122,260 1168,288 1200,330 C1232,372 1270,428 1290,480 C1310,532 1317,587 1320,640 C1323,693 1313,753 1310,800 C1307,847 1295,893 1300,920 C1305,947 1328,937 1340,960 C1352,983 1367,1028 1370,1060 C1373,1092 1360,1118 1360,1150 C1360,1182 1373,1212 1370,1250 C1367,1288 1352,1342 1340,1380 C1328,1418 1318,1450 1300,1480 C1282,1510 1260,1537 1230,1560 C1200,1583 1158,1605 1120,1620 C1082,1635 1038,1648 1000,1650 C962,1652 920,1645 890,1630 C860,1615 838,1585 820,1560 C802,1535 793,1487 780,1480 C767,1473 770,1512 740,1520 C710,1528 643,1532 600,1530 C557,1528 520,1520 480,1510 C440,1500 397,1487 360,1470 C323,1453 292,1433 260,1410 C228,1387 192,1365 170,1330 C148,1295 135,1242 130,1200 C125,1158 143,1122 140,1080 C137,1038 120,997 110,950 C100,903 82,845 80,800 C78,755 87,720 100,680 C113,640 143,598 160,560 C177,522 183,487 200,450 C217,413 233,373 260,340 C287,307 310,268 360,250 Z"/></clipPath>
<g filter="url(#rough)"><g clip-path="url(#c2)">
<rect x="0" y="0" width="1627" height="1727" fill="#74817c"/>
<ellipse cx="700" cy="800" rx="600" ry="650" fill="#78837e" filter="url(#b2)" opacity="1"/>
<ellipse cx="1110" cy="1360" rx="230" ry="260" fill="#93858c" filter="url(#b1)" opacity="1"/>
<ellipse cx="330" cy="1330" rx="200" ry="170" fill="#7a7e7a" filter="url(#b1)" opacity="1"/>
<ellipse cx="220" cy="860" rx="80" ry="200" fill="#8896a0" filter="url(#b1)" opacity="1"/>
<ellipse cx="1080" cy="520" rx="150" ry="230" fill="#7c8874" filter="url(#b1)" opacity="1"/>
<ellipse cx="1150" cy="850" rx="90" ry="200" fill="#8a9696" filter="url(#b1)" opacity="1"/>
<ellipse cx="645" cy="865" rx="380" ry="400" fill="#8a9896" filter="url(#b1)" opacity="0.7"/>
<ellipse cx="640" cy="870" rx="300" ry="330" fill="#9a9474" filter="url(#b0)" opacity="1"/>
<ellipse cx="645" cy="860" rx="318" ry="345" fill="none" stroke="#22442b" stroke-width="60" filter="url(#b0)" opacity="1"/>
<ellipse cx="650" cy="850" rx="400" ry="420" fill="none" stroke="#55655f" stroke-width="22" filter="url(#b0)" opacity="0.7"/>
<ellipse cx="660" cy="860" rx="520" ry="560" fill="none" stroke="#56625e" stroke-width="40" filter="url(#b1)" opacity="0.6"/>
<path d="M150,700 C162,667 182,562 220,500 C258,438 317,365 380,330 C443,295 563,297 600,290 " fill="none" stroke="#5c6864" stroke-width="30" stroke-linecap="round" stroke-linejoin="round" filter="url(#b0)" opacity="0.6"/>
<path d="M1000,300 C1025,320 1107,363 1150,420 C1193,477 1242,603 1260,640 " fill="none" stroke="#5a6660" stroke-width="26" stroke-linecap="round" stroke-linejoin="round" filter="url(#b0)" opacity="0.6"/>
<ellipse cx="610" cy="670" rx="210" ry="110" fill="#a29a82" filter="url(#b1)" opacity="1"/>
<ellipse cx="480" cy="900" rx="110" ry="200" fill="#b28a86" filter="url(#b1)" opacity="1"/>
<ellipse cx="690" cy="880" rx="150" ry="170" fill="#aeae6a" filter="url(#b1)" opacity="1"/>
<ellipse cx="620" cy="1070" rx="170" ry="100" fill="#527c40" filter="url(#b1)" opacity="1"/>
<ellipse cx="780" cy="760" rx="60" ry="80" fill="#ae8a88" filter="url(#b1)" opacity="1"/>
<path d="M1180,500 C1192,533 1240,633 1250,700 C1260,767 1252,837 1240,900 C1228,963 1190,1050 1180,1080 " fill="none" stroke="#4a5a56" stroke-width="14" stroke-linecap="round" stroke-linejoin="round" filter="url(#bs)" opacity="0.7"/>
<path d="M200,1000 C213,1033 238,1145 280,1200 C322,1255 380,1303 450,1330 C520,1357 617,1368 700,1360 C783,1352 908,1293 950,1280 " fill="none" stroke="#5a6a66" stroke-width="12" stroke-linecap="round" stroke-linejoin="round" filter="url(#bs)" opacity="0.6"/>
<path d="M760,1480 C770,1467 797,1425 820,1400 C843,1375 887,1342 900,1330 " fill="none" stroke="#5a5a5a" stroke-width="12" stroke-linecap="round" stroke-linejoin="round" filter="url(#bs)" opacity="0.6"/>
<path d="M740,290 C750,290 790,290 800,290 " fill="none" stroke="#1a1a22" stroke-width="24" stroke-linecap="round" stroke-linejoin="round" filter="url(#b0)" opacity="1"/>
<rect x="0" y="0" width="1627" height="1727" filter="url(#tex)" opacity="0.15"/>
</g></g></g>
<g transform="translate(858,960) scale(0.199760)">
<clipPath id="c3"><path d="M420,240 C445,230 447,252 470,260 C493,268 522,287 560,290 C598,293 652,282 700,280 C748,278 808,273 850,280 C892,287 917,303 950,320 C983,337 1028,375 1050,380 C1072,385 1063,347 1080,350 C1097,353 1122,393 1150,400 C1178,407 1212,395 1250,390 C1288,385 1352,363 1380,370 C1408,377 1403,400 1420,430 C1437,460 1462,508 1480,550 C1498,592 1523,638 1530,680 C1537,722 1525,758 1520,800 C1515,842 1503,888 1500,930 C1497,972 1508,1013 1500,1050 C1492,1087 1470,1120 1450,1150 C1430,1180 1400,1208 1380,1230 C1360,1252 1350,1268 1330,1280 C1310,1292 1277,1285 1260,1300 C1243,1315 1248,1345 1230,1370 C1212,1395 1180,1423 1150,1450 C1120,1477 1082,1505 1050,1530 C1018,1555 990,1587 960,1600 C930,1613 897,1615 870,1610 C843,1605 815,1588 800,1570 C785,1552 797,1515 780,1500 C763,1485 730,1490 700,1480 C670,1470 637,1453 600,1440 C563,1427 517,1420 480,1400 C443,1380 412,1348 380,1320 C348,1292 315,1260 290,1230 C265,1200 248,1163 230,1140 C212,1117 185,1107 180,1090 C175,1073 205,1063 200,1040 C195,1017 167,985 150,950 C133,915 112,868 100,830 C88,792 78,762 80,720 C82,678 95,622 110,580 C125,538 148,503 170,470 C192,437 215,405 240,380 C265,355 290,343 320,320 C350,297 395,250 420,240 Z"/></clipPath>
<g filter="url(#rough)"><g clip-path="url(#c3)">
<rect x="0" y="0" width="1627" height="1727" fill="#53605a"/>
<ellipse cx="650" cy="420" rx="420" ry="170" fill="#5a7862" filter="url(#b1)" opacity="1"/>
<ellipse cx="250" cy="800" rx="170" ry="330" fill="#4a5a4e" filter="url(#b1)" opacity="1"/>
<ellipse cx="1330" cy="780" rx="200" ry="380" fill="#666964" filter="url(#b1)" opacity="1"/>
<ellipse cx="1300" cy="1050" rx="150" ry="200" fill="#587060" filter="url(#b1)" opacity="1"/>
<ellipse cx="1150" cy="1250" rx="250" ry="220" fill="#4a584c" filter="url(#b1)" opacity="1"/>
<ellipse cx="1110" cy="410" rx="70" ry="70" fill="#4a3c48" filter="url(#b0)" opacity="1"/>
<path d="M410,520 C413,567 425,703 430,800 C435,897 440,1012 440,1100 C440,1188 432,1292 430,1330 " fill="none" stroke="#6a7a6c" stroke-width="90" stroke-linecap="round" stroke-linejoin="round" filter="url(#b1)" opacity="0.8"/>
<path d="M480,760 C493,713 513,653 540,620 C567,587 597,573 640,560 C683,547 748,537 800,540 C852,543 907,557 950,580 C993,603 1035,635 1060,680 C1085,725 1097,788 1100,850 C1103,912 1097,983 1080,1050 C1063,1117 1038,1203 1000,1250 C962,1297 900,1318 850,1330 C800,1342 748,1333 700,1320 C652,1307 597,1287 560,1250 C523,1213 497,1158 480,1100 C463,1042 460,957 460,900 C460,843 467,807 480,760 Z" fill="#857e8a" filter="url(#b0)" opacity="1"/>
<ellipse cx="810" cy="800" rx="220" ry="210" fill="#948898" filter="url(#b1)" opacity="1"/>
<ellipse cx="650" cy="1080" rx="150" ry="200" fill="#83826a" filter="url(#b1)" opacity="1"/>
<ellipse cx="980" cy="1050" rx="110" ry="200" fill="#857a82" filter="url(#b1)" opacity="1"/>
<path d="M470,760 C478,737 495,658 520,620 C545,582 580,552 620,530 C660,508 713,495 760,490 C807,485 857,488 900,500 C943,512 988,530 1020,560 C1052,590 1078,660 1090,680 " fill="none" stroke="#1e3022" stroke-width="40" stroke-linecap="round" stroke-linejoin="round" filter="url(#b0)" opacity="1"/>
<path d="M1250,830 C1233,863 1188,960 1150,1030 C1112,1100 1065,1187 1020,1250 C975,1313 923,1372 880,1410 C837,1448 780,1468 760,1480 " fill="none" stroke="#5a7860" stroke-width="110" stroke-linecap="round" stroke-linejoin="round" filter="url(#b0)" opacity="1"/>
<path d="M1260,820 C1243,855 1198,957 1160,1030 C1122,1103 1075,1195 1030,1260 C985,1325 913,1393 890,1420 " fill="none" stroke="#3e5444" stroke-width="14" stroke-linecap="round" stroke-linejoin="round" filter="url(#bs)" opacity="0.7"/>
<ellipse cx="600" cy="1380" rx="250" ry="90" fill="#46564a" filter="url(#b1)" opacity="1"/>
<path d="M1100,500 C1108,533 1150,633 1150,700 C1150,767 1108,867 1100,900 " fill="none" stroke="#3c4840" stroke-width="14" stroke-linecap="round" stroke-linejoin="round" filter="url(#bs)" opacity="0.6"/>
<path d="M280,1000 C288,1005 322,1025 330,1030 " fill="none" stroke="#f0f0f0" stroke-width="16" stroke-linecap="round" stroke-linejoin="round" filter="url(#bs)" opacity="0.9"/>
<rect x="0" y="0" width="1627" height="1727" filter="url(#tex)" opacity="0.15"/>
</g></g></g>
<g transform="translate(1197,960) scale(0.199760)">
<clipPath id="c4"><path d="M250,250 C288,237 342,228 400,220 C458,212 550,210 600,200 C650,190 670,170 700,160 C730,150 747,142 780,140 C813,138 863,137 900,150 C937,163 973,195 1000,220 C1027,245 1047,270 1060,300 C1073,330 1080,372 1080,400 C1080,428 1048,457 1060,470 C1072,483 1118,472 1150,480 C1182,488 1225,502 1250,520 C1275,538 1278,577 1300,590 C1322,603 1353,590 1380,600 C1407,610 1438,623 1460,650 C1482,677 1497,722 1510,760 C1523,798 1533,840 1540,880 C1547,920 1552,963 1550,1000 C1548,1037 1538,1070 1530,1100 C1522,1130 1515,1158 1500,1180 C1485,1202 1465,1218 1440,1230 C1415,1242 1385,1248 1350,1250 C1315,1252 1258,1243 1230,1240 C1202,1237 1190,1223 1180,1230 C1170,1237 1172,1255 1170,1280 C1168,1305 1182,1350 1170,1380 C1158,1410 1128,1438 1100,1460 C1072,1482 1033,1497 1000,1510 C967,1523 925,1532 900,1540 C875,1548 860,1577 850,1560 C840,1543 848,1477 840,1440 C832,1403 818,1358 800,1340 C782,1322 743,1317 730,1330 C717,1343 725,1390 720,1420 C715,1450 713,1482 700,1510 C687,1538 657,1575 640,1590 C623,1605 617,1608 600,1600 C583,1592 563,1563 540,1540 C517,1517 483,1487 460,1460 C437,1433 427,1403 400,1380 C373,1357 330,1340 300,1320 C270,1300 240,1288 220,1260 C200,1232 185,1185 180,1150 C175,1115 185,1092 190,1050 C195,1008 202,937 210,900 C218,863 247,853 240,830 C233,807 192,790 170,760 C148,730 125,693 110,650 C95,607 82,545 80,500 C78,455 85,413 100,380 C115,347 145,322 170,300 C195,278 212,263 250,250 Z"/></clipPath>
<g filter="url(#rough)"><g clip-path="url(#c4)">
<rect x="0" y="0" width="1627" height="1727" fill="#7f8e78"/>
<ellipse cx="280" cy="480" rx="200" ry="250" fill="#957d80" filter="url(#b1)" opacity="1"/>
<ellipse cx="300" cy="660" rx="150" ry="110" fill="#9c8264" filter="url(#b1)" opacity="1"/>
<ellipse cx="580" cy="430" rx="140" ry="190" fill="#84a068" filter="url(#b1)" opacity="1"/>
<ellipse cx="800" cy="320" rx="170" ry="160" fill="#8e8276" filter="url(#b1)" opacity="1"/>
<ellipse cx="1000" cy="700" rx="220" ry="230" fill="#72a256" filter="url(#b1)" opacity="1"/>
<ellipse cx="1380" cy="880" rx="150" ry="300" fill="#908a7e" filter="url(#b1)" opacity="1"/>
<ellipse cx="1320" cy="1080" rx="150" ry="120" fill="#9ea262" filter="url(#b1)" opacity="1"/>
<ellipse cx="330" cy="1050" rx="150" ry="300" fill="#6e7e70" filter="url(#b1)" opacity="1"/>
<ellipse cx="580" cy="1400" rx="140" ry="160" fill="#879660" filter="url(#b1)" opacity="1"/>
<ellipse cx="1000" cy="1380" rx="140" ry="140" fill="#6c9656" filter="url(#b1)" opacity="1"/>
<ellipse cx="750" cy="1000" rx="300" ry="260" fill="#3a6636" filter="url(#b1)" opacity="1"/>
<ellipse cx="720" cy="1000" rx="220" ry="190" fill="#8aa068" filter="url(#b1)" opacity="1"/>
<ellipse cx="680" cy="990" rx="100" ry="90" fill="#b48e80" filter="url(#b1)" opacity="1"/>
<ellipse cx="800" cy="1080" rx="90" ry="80" fill="#5a9446" filter="url(#b1)" opacity="1"/>
<path d="M450,820 C475,803 542,740 600,720 C658,700 742,690 800,700 C858,710 925,767 950,780 " fill="none" stroke="#2c4a2c" stroke-width="14" stroke-linecap="round" stroke-linejoin="round" filter="url(#bs)" opacity="0.8"/>
<path d="M470,1100 C492,1117 545,1178 600,1200 C655,1222 742,1238 800,1230 C858,1222 925,1163 950,1150 " fill="none" stroke="#2c4a2c" stroke-width="14" stroke-linecap="round" stroke-linejoin="round" filter="url(#bs)" opacity="0.8"/>
<path d="M950,850 C955,875 983,950 980,1000 C977,1050 938,1125 930,1150 " fill="none" stroke="#2c4a2c" stroke-width="14" stroke-linecap="round" stroke-linejoin="round" filter="url(#bs)" opacity="0.8"/>
<path d="M420,700 C410,733 363,825 360,900 C357,975 373,1092 400,1150 C427,1208 500,1233 520,1250 " fill="none" stroke="#4a5e50" stroke-width="12" stroke-linecap="round" stroke-linejoin="round" filter="url(#bs)" opacity="0.6"/>
<rect x="0" y="0" width="1627" height="1727" filter="url(#tex)" opacity="0.15"/>
</g></g></g>
<g transform="translate(180,1324) scale(0.199760)">
<clipPath id="c5"><path d="M70,650 C77,613 85,582 100,560 C115,538 138,523 160,520 C182,517 212,548 230,540 C248,532 253,488 270,470 C287,452 312,433 330,430 C348,427 365,437 380,450 C395,463 407,480 420,510 C433,540 462,652 460,630 C458,608 412,430 410,380 C408,330 427,337 450,330 C473,323 517,328 550,340 C583,352 622,378 650,400 C678,422 702,453 720,470 C738,487 738,498 760,500 C782,502 817,482 850,480 C883,478 928,480 960,490 C992,500 1020,528 1040,540 C1060,552 1070,578 1080,560 C1090,542 1083,472 1100,430 C1117,388 1153,343 1180,310 C1207,277 1235,238 1260,230 C1285,222 1310,243 1330,260 C1350,277 1372,303 1380,330 C1388,357 1385,392 1380,420 C1375,448 1347,490 1350,500 C1353,510 1378,487 1400,480 C1422,473 1453,455 1480,460 C1507,465 1538,487 1560,510 C1582,533 1600,565 1610,600 C1620,635 1622,680 1620,720 C1618,760 1607,800 1600,840 C1593,880 1585,923 1580,960 C1575,997 1573,1027 1570,1060 C1567,1093 1567,1127 1560,1160 C1553,1193 1548,1232 1530,1260 C1512,1288 1477,1310 1450,1330 C1423,1350 1397,1372 1370,1380 C1343,1388 1312,1373 1290,1380 C1268,1387 1262,1403 1240,1420 C1218,1437 1187,1457 1160,1480 C1133,1503 1107,1540 1080,1560 C1053,1580 1030,1587 1000,1600 C970,1613 933,1633 900,1640 C867,1647 830,1647 800,1640 C770,1633 747,1617 720,1600 C693,1583 665,1553 640,1540 C615,1527 597,1532 570,1520 C543,1508 500,1490 480,1470 C460,1450 452,1428 450,1400 C448,1372 478,1333 470,1300 C462,1267 420,1228 400,1200 C380,1172 367,1155 350,1130 C333,1105 322,1072 300,1050 C278,1028 248,1013 220,1000 C192,987 153,987 130,970 C107,953 92,932 80,900 C68,868 62,822 60,780 C58,738 63,687 70,650 Z"/></clipPath>
<g filter="url(#rough)"><g clip-path="url(#c5)">
<rect x="0" y="0" width="1627" height="1727" fill="#6a7c6e"/>
<ellipse cx="300" cy="750" rx="260" ry="250" fill="#75847a" filter="url(#b1)" opacity="1"/>
<ellipse cx="560" cy="620" rx="150" ry="220" fill="#728274" filter="url(#b1)" opacity="1"/>
<ellipse cx="1350" cy="850" rx="260" ry="400" fill="#5f7c64" filter="url(#b1)" opacity="1"/>
<ellipse cx="1250" cy="450" rx="120" ry="180" fill="#6a7c6c" filter="url(#b1)" opacity="1"/>
<ellipse cx="890" cy="540" rx="160" ry="75" fill="#3c3248" filter="url(#b0)" opacity="1"/>
<ellipse cx="880" cy="630" rx="100" ry="85" fill="#4a3040" filter="url(#b0)" opacity="1"/>
<ellipse cx="820" cy="760" rx="50" ry="60" fill="#2a402a" filter="url(#b0)" opacity="1"/>
<ellipse cx="880" cy="1150" rx="200" ry="260" fill="#4a683e" filter="url(#b1)" opacity="1"/>
<ellipse cx="830" cy="1420" rx="170" ry="150" fill="#7a9a5a" filter="url(#b1)" opacity="1"/>
<ellipse cx="900" cy="1250" rx="90" ry="110" fill="#3a5a34" filter="url(#b1)" opacity="1"/>
<ellipse cx="600" cy="1400" rx="140" ry="120" fill="#64786a" filter="url(#b1)" opacity="1"/>
<ellipse cx="1000" cy="900" rx="100" ry="180" fill="#446444" filter="url(#b1)" opacity="1"/>
<path d="M150,720 C175,733 255,773 300,800 C345,827 380,857 420,880 C460,903 493,920 540,940 C587,960 660,988 700,1000 C740,1012 767,1008 780,1010 " fill="none" stroke="#c2d098" stroke-width="13" stroke-linecap="round" stroke-linejoin="round" filter="url(#bs)" opacity="0.85"/>
<path d="M540,940 C537,908 517,807 520,750 C523,693 553,625 560,600 " fill="none" stroke="#c2d098" stroke-width="9" stroke-linecap="round" stroke-linejoin="round" filter="url(#bs)" opacity="0.6"/>
<path d="M300,800 C313,783 367,717 380,700 " fill="none" stroke="#c2d098" stroke-width="8" stroke-linecap="round" stroke-linejoin="round" filter="url(#bs)" opacity="0.55"/>
<path d="M420,880 C405,897 345,963 330,980 " fill="none" stroke="#c2d098" stroke-width="8" stroke-linecap="round" stroke-linejoin="round" filter="url(#bs)" opacity="0.55"/>
<path d="M1470,570 C1442,598 1345,685 1300,740 C1255,795 1237,847 1200,900 C1163,953 1100,1033 1080,1060 " fill="none" stroke="#c2d098" stroke-width="11" stroke-linecap="round" stroke-linejoin="round" filter="url(#bs)" opacity="0.8"/>
<path d="M1300,740 C1317,758 1383,832 1400,850 " fill="none" stroke="#c2d098" stroke-width="7" stroke-linecap="round" stroke-linejoin="round" filter="url(#bs)" opacity="0.5"/>
<path d="M1080,1060 C1087,1100 1117,1235 1120,1300 C1123,1365 1103,1425 1100,1450 " fill="none" stroke="#c2d098" stroke-width="8" stroke-linecap="round" stroke-linejoin="round" filter="url(#bs)" opacity="0.5"/>
<path d="M780,1010 C777,1042 753,1135 760,1200 C767,1265 810,1367 820,1400 " fill="none" stroke="#c2d098" stroke-width="8" stroke-linecap="round" stroke-linejoin="round" filter="url(#bs)" opacity="0.5"/>
<rect x="0" y="0" width="1627" height="1727" filter="url(#tex)" opacity="0.15"/>
</g></g></g>
<g transform="translate(519,1324) scale(0.199760)">
<clipPath id="c6"><path d="M560,330 C580,308 597,248 620,220 C643,192 670,173 700,160 C730,147 770,138 800,140 C830,142 860,175 880,170 C900,165 900,123 920,110 C940,97 973,90 1000,90 C1027,90 1058,95 1080,110 C1102,125 1120,148 1130,180 C1140,212 1120,275 1140,300 C1160,325 1217,313 1250,330 C1283,347 1317,372 1340,400 C1363,428 1380,467 1390,500 C1400,533 1387,580 1400,600 C1413,620 1448,607 1470,620 C1492,633 1515,653 1530,680 C1545,707 1557,747 1560,780 C1563,813 1563,857 1550,880 C1537,903 1495,907 1480,920 C1465,933 1458,937 1460,960 C1462,983 1483,1027 1490,1060 C1497,1093 1502,1127 1500,1160 C1498,1193 1492,1232 1480,1260 C1468,1288 1452,1313 1430,1330 C1408,1347 1375,1352 1350,1360 C1325,1368 1295,1362 1280,1380 C1265,1398 1273,1442 1260,1470 C1247,1498 1223,1527 1200,1550 C1177,1573 1150,1595 1120,1610 C1090,1625 1057,1638 1020,1640 C983,1642 933,1617 900,1620 C867,1623 853,1650 820,1660 C787,1670 740,1675 700,1680 C660,1685 620,1690 580,1690 C540,1690 500,1688 460,1680 C420,1672 377,1657 340,1640 C303,1623 270,1603 240,1580 C210,1557 178,1530 160,1500 C142,1470 132,1427 130,1400 C128,1373 155,1363 150,1340 C145,1317 112,1297 100,1260 C88,1223 87,1170 80,1120 C73,1070 63,1005 60,960 C57,915 50,890 60,850 C70,810 100,757 120,720 C140,683 153,658 180,630 C207,602 250,580 280,550 C310,520 335,478 360,450 C385,422 407,397 430,380 C453,363 478,358 500,350 C522,342 540,352 560,330 Z"/></clipPath>
<g filter="url(#rough)"><g clip-path="url(#c6)">
<rect x="0" y="0" width="1627" height="1727" fill="#4a5c50"/>
<ellipse cx="800" cy="900" rx="600" ry="650" fill="#4a5e50" filter="url(#b2)" opacity="1"/>
<ellipse cx="1150" cy="1000" rx="200" ry="300" fill="#58725a" filter="url(#b1)" opacity="1"/>
<ellipse cx="450" cy="1050" rx="220" ry="200" fill="#52684f" filter="url(#b1)" opacity="1"/>
<ellipse cx="760" cy="950" rx="230" ry="300" fill="#485a40" filter="url(#b1)" opacity="1"/>
<ellipse cx="800" cy="950" rx="140" ry="240" fill="#5a6448" filter="url(#b1)" opacity="1"/>
<path d="M540,1020 C558,992 612,903 650,850 C688,797 750,725 770,700 " fill="none" stroke="#6c7661" stroke-width="110" stroke-linecap="round" stroke-linejoin="round" filter="url(#b0)" opacity="1"/>
<path d="M650,920 C667,950 720,1047 750,1100 C780,1153 817,1217 830,1240 " fill="none" stroke="#69705b" stroke-width="90" stroke-linecap="round" stroke-linejoin="round" filter="url(#b0)" opacity="1"/>
<path d="M930,790 C930,825 932,930 930,1000 C928,1070 918,1175 915,1210 " fill="none" stroke="#67725e" stroke-width="100" stroke-linecap="round" stroke-linejoin="round" filter="url(#b0)" opacity="1"/>
<ellipse cx="815" cy="1120" rx="45" ry="90" fill="#283020" filter="url(#b0)" opacity="1"/>
<ellipse cx="700" cy="780" rx="50" ry="70" fill="#7a826e" filter="url(#b0)" opacity="1"/>
<ellipse cx="600" cy="1500" rx="300" ry="120" fill="#465a4c" filter="url(#b1)" opacity="1"/>
<path d="M650,580 C675,587 750,592 800,620 C850,648 900,703 950,750 C1000,797 1067,862 1100,900 C1133,938 1142,967 1150,980 " fill="none" stroke="#34463a" stroke-width="18" stroke-linecap="round" stroke-linejoin="round" filter="url(#bs)" opacity="0.8"/>
<path d="M300,900 C308,867 317,757 350,700 C383,643 442,590 500,560 C558,530 667,527 700,520 " fill="none" stroke="#3a4e40" stroke-width="14" stroke-linecap="round" stroke-linejoin="round" filter="url(#bs)" opacity="0.7"/>
<path d="M1300,900 C1303,933 1328,1033 1320,1100 C1312,1167 1287,1250 1250,1300 C1213,1350 1158,1375 1100,1400 C1042,1425 933,1442 900,1450 " fill="none" stroke="#3a4e40" stroke-width="14" stroke-linecap="round" stroke-linejoin="round" filter="url(#bs)" opacity="0.7"/>
<path d="M250,1350 C283,1367 375,1433 450,1450 C525,1467 658,1450 700,1450 " fill="none" stroke="#3a4e40" stroke-width="12" stroke-linecap="round" stroke-linejoin="round" filter="url(#bs)" opacity="0.6"/>
<path d="M1000,1100 C1050,1067 1250,933 1300,900 " fill="none" stroke="#7a9276" stroke-width="6" stroke-linecap="round" stroke-linejoin="round" filter="url(#bs)" opacity="0.5"/><path d="M1000,1100 C1055,1092 1275,1058 1330,1050 " fill="none" stroke="#7a9276" stroke-width="6" stroke-linecap="round" stroke-linejoin="round" filter="url(#bs)" opacity="0.5"/><path d="M1000,1100 C1050,1117 1250,1183 1300,1200 " fill="none" stroke="#7a9276" stroke-width="6" stroke-linecap="round" stroke-linejoin="round" filter="url(#bs)" opacity="0.5"/><path d="M1000,1100 C1033,1133 1167,1267 1200,1300 " fill="none" stroke="#7a9276" stroke-width="6" stroke-linecap="round" stroke-linejoin="round" filter="url(#bs)" opacity="0.5"/>
<path d="M550,1100 C508,1083 342,1017 300,1000 " fill="none" stroke="#7a9276" stroke-width="6" stroke-linecap="round" stroke-linejoin="round" filter="url(#bs)" opacity="0.4"/><path d="M550,1100 C505,1108 325,1142 280,1150 " fill="none" stroke="#7a9276" stroke-width="6" stroke-linecap="round" stroke-linejoin="round" filter="url(#bs)" opacity="0.4"/><path d="M550,1100 C517,1130 383,1250 350,1280 " fill="none" stroke="#7a9276" stroke-width="6" stroke-linecap="round" stroke-linejoin="round" filter="url(#bs)" opacity="0.4"/>
<rect x="0" y="0" width="1627" height="1727" filter="url(#tex)" opacity="0.15"/>
</g></g></g>
<g transform="translate(858,1324) scale(0.199760)">
<clipPath id="c7"><path d="M420,400 C440,368 467,328 500,300 C533,272 577,248 620,230 C663,212 717,195 760,190 C803,185 840,192 880,200 C920,208 963,225 1000,240 C1037,255 1067,275 1100,290 C1133,305 1170,308 1200,330 C1230,352 1258,388 1280,420 C1302,452 1313,490 1330,520 C1347,550 1363,572 1380,600 C1397,628 1412,658 1430,690 C1448,722 1477,755 1490,790 C1503,825 1502,865 1510,900 C1518,935 1533,967 1540,1000 C1547,1033 1553,1067 1550,1100 C1547,1133 1537,1167 1520,1200 C1503,1233 1473,1273 1450,1300 C1427,1327 1405,1340 1380,1360 C1355,1380 1322,1397 1300,1420 C1278,1443 1273,1473 1250,1500 C1227,1527 1192,1557 1160,1580 C1128,1603 1095,1623 1060,1640 C1025,1657 985,1672 950,1680 C915,1688 885,1692 850,1690 C815,1688 775,1682 740,1670 C705,1658 670,1638 640,1620 C610,1602 583,1583 560,1560 C537,1537 515,1507 500,1480 C485,1453 487,1408 470,1400 C453,1392 423,1427 400,1430 C377,1433 355,1430 330,1420 C305,1410 272,1390 250,1370 C228,1350 215,1328 200,1300 C185,1272 168,1237 160,1200 C152,1163 152,1122 150,1080 C148,1038 152,992 150,950 C148,908 138,867 140,830 C142,793 147,762 160,730 C173,698 197,667 220,640 C243,613 273,595 300,570 C327,545 360,518 380,490 C400,462 400,432 420,400 Z"/></clipPath>
<g filter="url(#rough)"><g clip-path="url(#c7)">
<rect x="0" y="0" width="1627" height="1727" fill="#55705e"/>
<ellipse cx="780" cy="480" rx="400" ry="250" fill="#587460" filter="url(#b1)" opacity="1"/>
<ellipse cx="320" cy="1000" rx="180" ry="380" fill="#406242" filter="url(#b1)" opacity="1"/>
<ellipse cx="1300" cy="950" rx="220" ry="350" fill="#5a786c" filter="url(#b1)" opacity="1"/>
<ellipse cx="1380" cy="1150" rx="140" ry="200" fill="#78906a" filter="url(#b1)" opacity="1"/>
<ellipse cx="850" cy="1500" rx="380" ry="180" fill="#5a786e" filter="url(#b1)" opacity="1"/>
<ellipse cx="790" cy="1040" rx="330" ry="350" fill="#2c4a32" filter="url(#b1)" opacity="1"/>
<ellipse cx="770" cy="1040" rx="292" ry="322" fill="#a4aa74" filter="url(#b0)" opacity="1"/>
<ellipse cx="740" cy="960" rx="190" ry="170" fill="#b0b380" filter="url(#b1)" opacity="1"/>
<ellipse cx="720" cy="950" rx="90" ry="55" fill="#c2c48a" filter="url(#b1)" opacity="1" transform="rotate(-20 720 950)"/>
<ellipse cx="900" cy="1220" rx="140" ry="100" fill="#8c9458" filter="url(#b1)" opacity="1"/>
<path d="M430,900 C408,908 338,933 300,950 C262,967 217,992 200,1000 " fill="none" stroke="#6e8a66" stroke-width="8" stroke-linecap="round" stroke-linejoin="round" filter="url(#bs)" opacity="0.6"/>
<path d="M430,900 C428,867 418,763 420,700 C422,637 437,550 440,520 " fill="none" stroke="#6e8a66" stroke-width="8" stroke-linecap="round" stroke-linejoin="round" filter="url(#bs)" opacity="0.5"/>
<path d="M1100,1300 C1133,1275 1242,1217 1300,1150 C1358,1083 1425,942 1450,900 " fill="none" stroke="#4a6858" stroke-width="12" stroke-linecap="round" stroke-linejoin="round" filter="url(#bs)" opacity="0.6"/>
<path d="M600,1400 C633,1408 733,1447 800,1450 C867,1453 942,1440 1000,1420 C1058,1400 1125,1345 1150,1330 " fill="none" stroke="#3e5a48" stroke-width="12" stroke-linecap="round" stroke-linejoin="round" filter="url(#bs)" opacity="0.6"/>
<rect x="0" y="0" width="1627" height="1727" filter="url(#tex)" opacity="0.15"/>
</g></g></g>
<g transform="translate(1197,1324) scale(0.199760)">
<clipPath id="c8"><path d="M160,440 C177,412 202,397 230,390 C258,383 298,407 330,400 C362,393 387,367 420,350 C453,333 493,315 530,300 C567,285 602,272 640,260 C678,248 720,237 760,230 C800,223 843,218 880,220 C917,222 950,227 980,240 C1010,253 1042,273 1060,300 C1078,327 1085,370 1090,400 C1095,430 1080,462 1090,480 C1100,498 1128,497 1150,510 C1172,523 1198,538 1220,560 C1242,582 1262,617 1280,640 C1298,663 1318,673 1330,700 C1342,727 1348,767 1350,800 C1352,833 1348,867 1340,900 C1332,933 1315,973 1300,1000 C1285,1027 1267,1043 1250,1060 C1233,1077 1207,1080 1200,1100 C1193,1120 1210,1155 1210,1180 C1210,1205 1210,1230 1200,1250 C1190,1270 1152,1278 1150,1300 C1148,1322 1178,1350 1190,1380 C1202,1410 1217,1453 1220,1480 C1223,1507 1225,1533 1210,1540 C1195,1547 1157,1527 1130,1520 C1103,1513 1080,1500 1050,1500 C1020,1500 980,1510 950,1520 C920,1530 895,1548 870,1560 C845,1572 825,1590 800,1590 C775,1590 747,1558 720,1560 C693,1562 667,1597 640,1600 C613,1603 588,1587 560,1580 C532,1573 500,1567 470,1560 C440,1553 408,1550 380,1540 C352,1530 323,1517 300,1500 C277,1483 257,1463 240,1440 C223,1417 208,1390 200,1360 C192,1330 195,1295 190,1260 C185,1225 180,1187 170,1150 C160,1113 142,1078 130,1040 C118,1002 107,960 100,920 C93,880 88,840 90,800 C92,760 103,720 110,680 C117,640 122,600 130,560 C138,520 143,468 160,440 Z"/></clipPath>
<g filter="url(#rough)"><g clip-path="url(#c8)">
<rect x="0" y="0" width="1627" height="1727" fill="#5a7264"/>
<ellipse cx="700" cy="700" rx="450" ry="350" fill="#68806e" filter="url(#b1)" opacity="1"/>
<ellipse cx="1000" cy="800" rx="250" ry="250" fill="#728c72" filter="url(#b1)" opacity="1"/>
<ellipse cx="250" cy="900" rx="130" ry="400" fill="#4c6456" filter="url(#b1)" opacity="1"/>
<ellipse cx="500" cy="1300" rx="300" ry="200" fill="#4c6456" filter="url(#b1)" opacity="1"/>
<ellipse cx="900" cy="1150" rx="200" ry="150" fill="#6c866c" filter="url(#b1)" opacity="1"/>
<ellipse cx="600" cy="560" rx="120" ry="90" fill="#7a9078" filter="url(#b1)" opacity="1"/>
<ellipse cx="850" cy="450" rx="130" ry="90" fill="#7a9078" filter="url(#b1)" opacity="1"/>
<ellipse cx="1150" cy="750" rx="120" ry="120" fill="#7c967a" filter="url(#b1)" opacity="1"/>
<ellipse cx="980" cy="950" rx="110" ry="90" fill="#809a7a" filter="url(#b1)" opacity="1"/>
<ellipse cx="420" cy="780" rx="110" ry="90" fill="#5a7464" filter="url(#b1)" opacity="1"/>
<ellipse cx="700" cy="900" rx="100" ry="90" fill="#58705e" filter="url(#b1)" opacity="1"/>
<path d="M760,1560 C752,1538 805,1475 820,1440 C835,1405 828,1368 850,1350 C872,1332 915,1333 950,1330 C985,1327 1027,1332 1060,1330 C1093,1328 1128,1310 1150,1320 C1172,1330 1178,1363 1190,1390 C1202,1417 1222,1453 1225,1480 C1228,1507 1222,1542 1210,1550 C1198,1558 1177,1538 1150,1530 C1123,1522 1082,1500 1050,1500 C1018,1500 990,1518 960,1530 C930,1542 903,1570 870,1575 C837,1580 768,1582 760,1560 Z" fill="#2c462a" filter="url(#bs)" opacity="1"/>
<path d="M300,850 C325,883 400,992 450,1050 C500,1108 542,1167 600,1200 C658,1233 767,1242 800,1250 " fill="none" stroke="#8aa08a" stroke-width="10" stroke-linecap="round" stroke-linejoin="round" filter="url(#bs)" opacity="0.6"/>
<path d="M550,1200 C583,1167 692,1053 750,1000 C808,947 875,900 900,880 " fill="none" stroke="#8aa08a" stroke-width="10" stroke-linecap="round" stroke-linejoin="round" filter="url(#bs)" opacity="0.6"/>
<path d="M380,1250 C417,1250 530,1252 600,1250 C670,1248 767,1242 800,1240 " fill="none" stroke="#3a5040" stroke-width="12" stroke-linecap="round" stroke-linejoin="round" filter="url(#bs)" opacity="0.7"/>
<path d="M200,600 C217,583 258,525 300,500 C342,475 425,458 450,450 " fill="none" stroke="#3e5446" stroke-width="12" stroke-linecap="round" stroke-linejoin="round" filter="url(#bs)" opacity="0.6"/>
<path d="M650,700 C667,692 717,650 750,650 C783,650 833,692 850,700 " fill="none" stroke="#4e6a56" stroke-width="12" stroke-linecap="round" stroke-linejoin="round" filter="url(#bs)" opacity="0.6"/>
<path d="M1000,1100 C1017,1092 1067,1053 1100,1050 C1133,1047 1183,1075 1200,1080 " fill="none" stroke="#4a6050" stroke-width="12" stroke-linecap="round" stroke-linejoin="round" filter="url(#bs)" opacity="0.6"/>
<rect x="0" y="0" width="1627" height="1727" filter="url(#tex)" opacity="0.15"/>
</g></g></g>
<text transform="translate(198.6,1010) scale(0.83,1)" font-size="48" font-weight="bold" text-anchor="start" fill="#111" font-family='"Liberation Sans", Arial, sans-serif' >154</text>
<text transform="translate(531.2,1005) scale(0.83,1)" font-size="48" font-weight="bold" text-anchor="start" fill="#111" font-family='"Liberation Sans", Arial, sans-serif' >T-523</text>
<text transform="translate(877.3,1001.3) scale(0.83,1)" font-size="48" font-weight="bold" text-anchor="start" fill="#111" font-family='"Liberation Sans", Arial, sans-serif' >T-530</text>
<text transform="translate(1203.8,1005) scale(0.83,1)" font-size="48" font-weight="bold" text-anchor="start" fill="#111" font-family='"Liberation Sans", Arial, sans-serif' >CT-415</text>
<text transform="translate(201,1371.3) scale(0.83,1)" font-size="48" font-weight="bold" text-anchor="start" fill="#111" font-family='"Liberation Sans", Arial, sans-serif' >09WH45</text>
<text transform="translate(532.4,1366.4) scale(0.83,1)" font-size="48" font-weight="bold" text-anchor="start" fill="#111" font-family='"Liberation Sans", Arial, sans-serif' >2409</text>
<text transform="translate(868.7,1362.7) scale(0.83,1)" font-size="48" font-weight="bold" text-anchor="start" fill="#111" font-family='"Liberation Sans", Arial, sans-serif' >Golden Cross</text>
<text transform="translate(1211.2,1365.2) scale(0.83,1)" font-size="48" font-weight="bold" text-anchor="start" fill="#111" font-family='"Liberation Sans", Arial, sans-serif' >Speed King</text>
<line x1="445.2" y1="1271.2" x2="476" y2="1271.2" stroke="#333" stroke-width="3"/>
<line x1="787.6" y1="1270" x2="831.9" y2="1270" stroke="#333" stroke-width="3"/>
<line x1="1100.6" y1="1279" x2="1153.5" y2="1279" stroke="#333" stroke-width="3"/>
<line x1="1439.4" y1="1263.1" x2="1484.9" y2="1263.1" stroke="#333" stroke-width="3"/>
<line x1="429.2" y1="1654.8" x2="455" y2="1654.8" stroke="#333" stroke-width="3"/>
<line x1="776.6" y1="1649" x2="808.5" y2="1649" stroke="#333" stroke-width="3"/>
<line x1="1125.2" y1="1639.3" x2="1169.4" y2="1639.3" stroke="#333" stroke-width="3"/>
<line x1="1452.9" y1="1618.4" x2="1495.9" y2="1618.4" stroke="#333" stroke-width="3"/>
</svg></body></html>
